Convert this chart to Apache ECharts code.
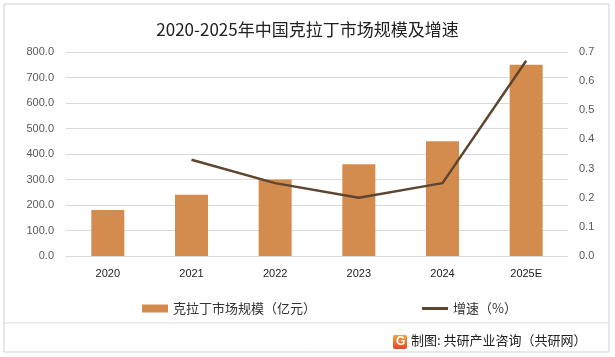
<!DOCTYPE html>
<html><head><meta charset="utf-8">
<script src="https://cdn.jsdelivr.net/npm/echarts@6/dist/echarts.min.js"></script>
<style>html,body{margin:0;padding:0;background:#fff}#c{width:615px;height:357px}</style>
</head><body><div id="c"></div>
<script>
var categories = ['2020','2021','2022','2023','2024','2025E'];
var marketSize = [180, 240, 300, 360, 450, 750];
var growth = [null, 0.33, 0.25, 0.20, 0.25, 0.67];
var leftTicks = [0,100,200,300,400,500,600,700,800];
var rightTicks = [0,0.1,0.2,0.3,0.4,0.5,0.6,0.7];

var chart = echarts.init(document.getElementById('c'));
var font = '"Microsoft YaHei","Noto Sans CJK SC",sans-serif';
chart.setOption({
  backgroundColor:'#fff',
  animation:false,
  title:{text:'2020-2025年中国克拉丁市场规模及增速',left:'center',top:16,
    textStyle:{fontSize:17,fontWeight:'normal',color:'#222',fontFamily:font}},
  legend:[{top:297,left:137,itemWidth:26,itemHeight:8,
    textStyle:{fontSize:13,color:'#333',fontFamily:font},
    data:[{name:'克拉丁市场规模（亿元）',icon:'rect'}]},
   {top:297,left:417,itemWidth:26,itemHeight:3,
    textStyle:{fontSize:13,color:'#333',fontFamily:font},
    data:[{name:'增速（%）',icon:'rect',itemStyle:{color:'#5E4530'}}]}],
  grid:{left:66,right:47,top:52,bottom:101},
  xAxis:{type:'category',data:categories,
    axisLine:{lineStyle:{color:'#d9d9d9'}},axisTick:{show:false},
    axisLabel:{color:'#222',fontSize:11,margin:12,fontFamily:'Arial,sans-serif'}},
  yAxis:[{type:'value',min:0,max:800,interval:100,
    axisLabel:{formatter:function(v){return v.toFixed(1);},color:'#595959',fontSize:11,margin:12,fontFamily:'Arial,sans-serif'},
    splitLine:{lineStyle:{color:'#d9d9d9'}},axisLine:{show:false},axisTick:{show:false}},
   {type:'value',min:0,max:0.7,interval:0.1,
    axisLabel:{formatter:function(v){return v.toFixed(1);},color:'#595959',fontSize:11,margin:11,fontFamily:'Arial,sans-serif'},
    splitLine:{show:false},axisLine:{show:false},axisTick:{show:false}}],
  series:[
    {name:'克拉丁市场规模（亿元）',type:'bar',data:marketSize,barWidth:33,itemStyle:{color:'#D48C4E'}},
    {name:'增速（%）',type:'line',yAxisIndex:1,data:growth,symbol:'none',
      lineStyle:{color:'#5E4530',width:2.5},itemStyle:{color:'#5E4530'}}
  ],
  graphic:[
    {type:'rect',shape:{x:4,y:4,width:605,height:348},style:{fill:'none',stroke:'#d0d0d0',lineWidth:1},silent:true},
    {type:'line',shape:{x1:4,y1:323,x2:609,y2:323},style:{stroke:'#d9d9d9',lineWidth:1}},
    {type:'rect',shape:{x:393,y:335,width:14,height:14,r:2},
      style:{fill:new echarts.graphic.LinearGradient(0,0,0,1,[{offset:0,color:'#F7A234'},{offset:1,color:'#E8452A'}])}},
    {type:'text',x:396,y:336,style:{text:'G',fill:'#fff',font:'bold 12px Arial'}},
    {type:'text',x:411,y:334,style:{text:'制图: 共研产业咨询（共研网）',fill:'#222',font:'13px '+font}}
  ]
});
</script></body></html>
